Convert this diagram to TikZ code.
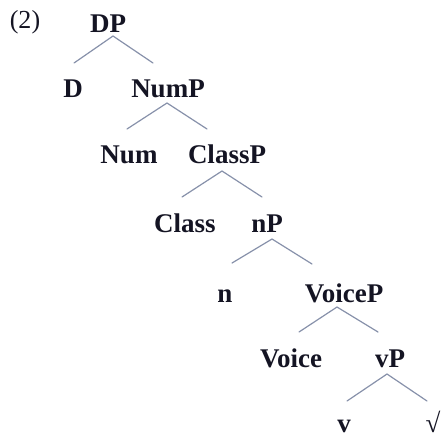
\documentclass[tikz,border=0pt]{standalone}
\usepackage{fontspec}
\usetikzlibrary{calc}
\setmainfont{Liberation Serif}
\definecolor{brc}{RGB}{135,145,170}
\definecolor{txt}{RGB}{20,20,35}
\begin{document}
\begin{tikzpicture}[x=1pt,y=-1pt,
  lab/.style={anchor=base,inner sep=0pt,text=txt,font=\fontsize{27}{30}\selectfont\bfseries},
  num/.style={anchor=base,inner sep=0pt,text=txt,font=\fontsize{26}{30}\selectfont},
  br/.style={draw=brc,line width=1.2pt,line cap=round}]
\useasboundingbox (0,0) rectangle (443,437);
\node[num] (ex) at (25,28) {(2)};
\node[lab] (DP) at (108,32) {DP};
\node[lab] (D) at (73,97) {D};
\node[lab] (NumP) at (168,97) {NumP};
\node[lab] (Num) at (129,163) {Num};
\node[lab] (ClassP) at (227,163) {ClassP};
\node[lab] (Class) at (185,232) {Class};
\node[lab] (nP) at (267,232) {nP};
\node[lab] (n) at (225,302) {n};
\node[lab] (VoiceP) at (344,302) {VoiceP};
\node[lab] (Voice) at (291,367) {Voice};
\node[lab] (vP) at (390,367) {vP};
\node[lab] (v) at (344,432) {v};
\node[lab] (root) at (433,432) {√};
% branches
\draw[br] ($(D.base)+(1,-34)$) -- ($(DP.base)+(5,4)$) -- ($(NumP.base)+(-15,-34)$);
\draw[br] ($(Num.base)+(-2,-34)$) -- ($(NumP.base)+(-1,6)$) -- ($(ClassP.base)+(-20,-34)$);
\draw[br] ($(Class.base)+(-3,-35)$) -- ($(ClassP.base)+(-5,8)$) -- ($(nP.base)+(-5,-35)$);
\draw[br] ($(n.base)+(7,-39)$) -- ($(nP.base)+(5,7)$) -- ($(VoiceP.base)+(-32,-38)$);
\draw[br] ($(Voice.base)+(8,-35)$) -- ($(VoiceP.base)+(-7,5)$) -- ($(vP.base)+(-12,-35)$);
\draw[br] ($(v.base)+(3,-31)$) -- ($(vP.base)+(-3,7)$) -- ($(root.base)+(-6,-31)$);
\end{tikzpicture}
\end{document}
